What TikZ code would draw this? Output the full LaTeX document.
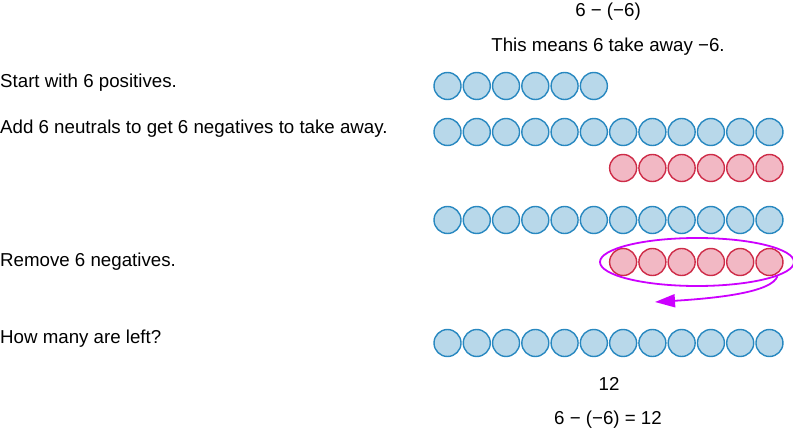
\documentclass[tikz,border=0pt]{standalone}
\usepackage{fontspec}
\setmainfont{Liberation Sans}
\usetikzlibrary{arrows.meta, shapes.geometric}
\definecolor{posfill}{RGB}{184,216,234}
\definecolor{posline}{RGB}{40,136,192}
\definecolor{negfill}{RGB}{242,184,196}
\definecolor{negline}{RGB}{206,44,72}
\definecolor{loopcol}{RGB}{204,0,255}
\tikzset{
  poschip/.style={circle, draw=posline, fill=posfill, line width=1.4pt, minimum size=27pt, inner sep=0pt},
  negchip/.style={circle, draw=negline, fill=negfill, line width=1.4pt, minimum size=27pt, inner sep=0pt},
  lefttext/.style={anchor=west, inner sep=0pt},
}

\begin{document}
\begin{tikzpicture}[x=1pt,y=-1pt,>=Latex, font=\fontsize{18.7}{22}\selectfont]
  \useasboundingbox (0,0) rectangle (793,433);
  \def\xo{447.5}
  \def\dx{29.27}

  % Title
  \node (title) at (608,12) {6 − (−6)};
  \node (means) at (608,47) {This means 6 take away −6.};

  % Step texts
  \node[lefttext] (start) at (0,83) {Start with 6 positives.};
  \node[lefttext] (add) at (0,129) {Add 6 neutrals to get 6 negatives to take away.};
  \node[lefttext] (remove) at (0,262) {Remove 6 negatives.};
  \node[lefttext] (left) at (0,339) {How many are left?};

  % Counters
  \foreach \i in {0,...,5}
    \node[poschip] (a\i) at (\xo+\i*\dx,86) {};
  \foreach \i in {0,...,11}
    \node[poschip] (b\i) at (\xo+\i*\dx,132) {};
  \foreach \i in {6,...,11}
    \node[negchip] (c\i) at (\xo+\i*\dx,168) {};
  \foreach \i in {0,...,11}
    \node[poschip] (d\i) at (\xo+\i*\dx,220) {};
  \foreach \i in {6,...,11}
    \node[negchip] (e\i) at (\xo+\i*\dx,262) {};
  \foreach \i in {0,...,11}
    \node[poschip] (f\i) at (\xo+\i*\dx,343) {};

  % Removal loop
  \node[ellipse, draw=loopcol, line width=1.8pt, minimum width=194pt, minimum height=48pt] (loop) at (697,262) {};
  \coordinate (out) at (655,302);
  \draw[-{Triangle[length=20pt,width=13pt]}, loopcol, line width=1.8pt]
    (loop.-10) .. controls (772,292) and (720,298) .. (out);

  % Result
  \node (count) at (609,384) {12};
  \node (answer) at (608,420) {6 − (−6) = 12};
\end{tikzpicture}
\end{document}
